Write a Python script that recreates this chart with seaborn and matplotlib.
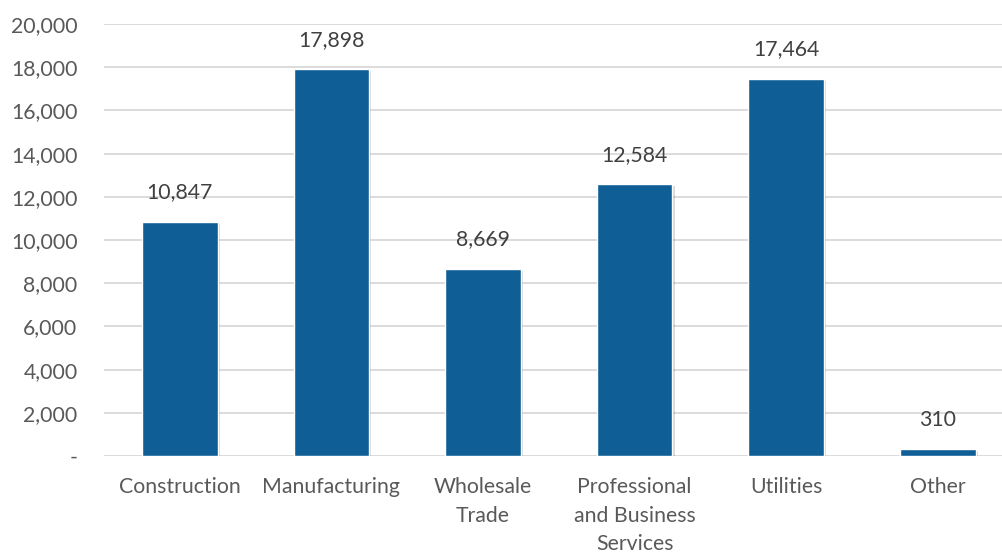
import matplotlib
matplotlib.use("Agg")
import matplotlib.pyplot as plt
import matplotlib.patheffects as pe
from matplotlib.ticker import FuncFormatter
import pandas as pd
import seaborn as sns

categories = ["Construction", "Manufacturing", "Wholesale\nTrade",
              "Professional\nand Business\nServices", "Utilities", "Other"]
values = [10847, 17898, 8669, 12584, 17464, 310]
y_ticks = [0, 2000, 4000, 6000, 8000, 10000, 12000, 14000, 16000, 18000, 20000]

df = pd.DataFrame({"category": categories, "value": values})

sns.set_style("white")
plt.rcParams['font.family'] = ['Lato', 'DejaVu Sans']

fig = plt.figure(figsize=(10.03, 5.54), dpi=100)
ax = fig.add_axes([104 / 1003, (554 - 456) / 554, (1003 - 104) / 1003, 432 / 554])

sns.barplot(data=df, x="category", y="value", color="#0F5F96", width=0.5,
            saturation=1, ax=ax, zorder=3)

for p in ax.patches:
    p.set_path_effects([pe.SimplePatchShadow(offset=(1.5, -1.5), shadow_rgbFace="#000000", alpha=0.15),
                        pe.Normal()])

for i, v in enumerate(values):
    ax.annotate(f"{v:,}", (i, v), xytext=(0, 14), textcoords="offset points",
                ha="center", va="bottom", fontsize=15.3, color="#404040")

ax.set_ylim(0, 20000)
ax.set_xlim(-0.5, -0.5 + 899 / 151.6)
ax.set_yticks(y_ticks)
ax.yaxis.set_major_formatter(FuncFormatter(lambda v, _: "-" if v == 0 else f"{v:,.0f}"))
ax.yaxis.grid(True, color="#D9D9D9", linewidth=1.3, zorder=0)
ax.set_axisbelow(True)
for s in ax.spines.values():
    s.set_visible(False)
ax.set_xlabel("")
ax.set_ylabel("")
ax.set_xticks(range(len(categories)))
ax.set_xticklabels(categories, linespacing=1.55)
ax.tick_params(axis="both", length=0, labelsize=15.3, labelcolor="#595959")
ax.tick_params(axis="y", pad=19)
ax.tick_params(axis="x", pad=15)

fig.savefig("out.png", dpi=100)
